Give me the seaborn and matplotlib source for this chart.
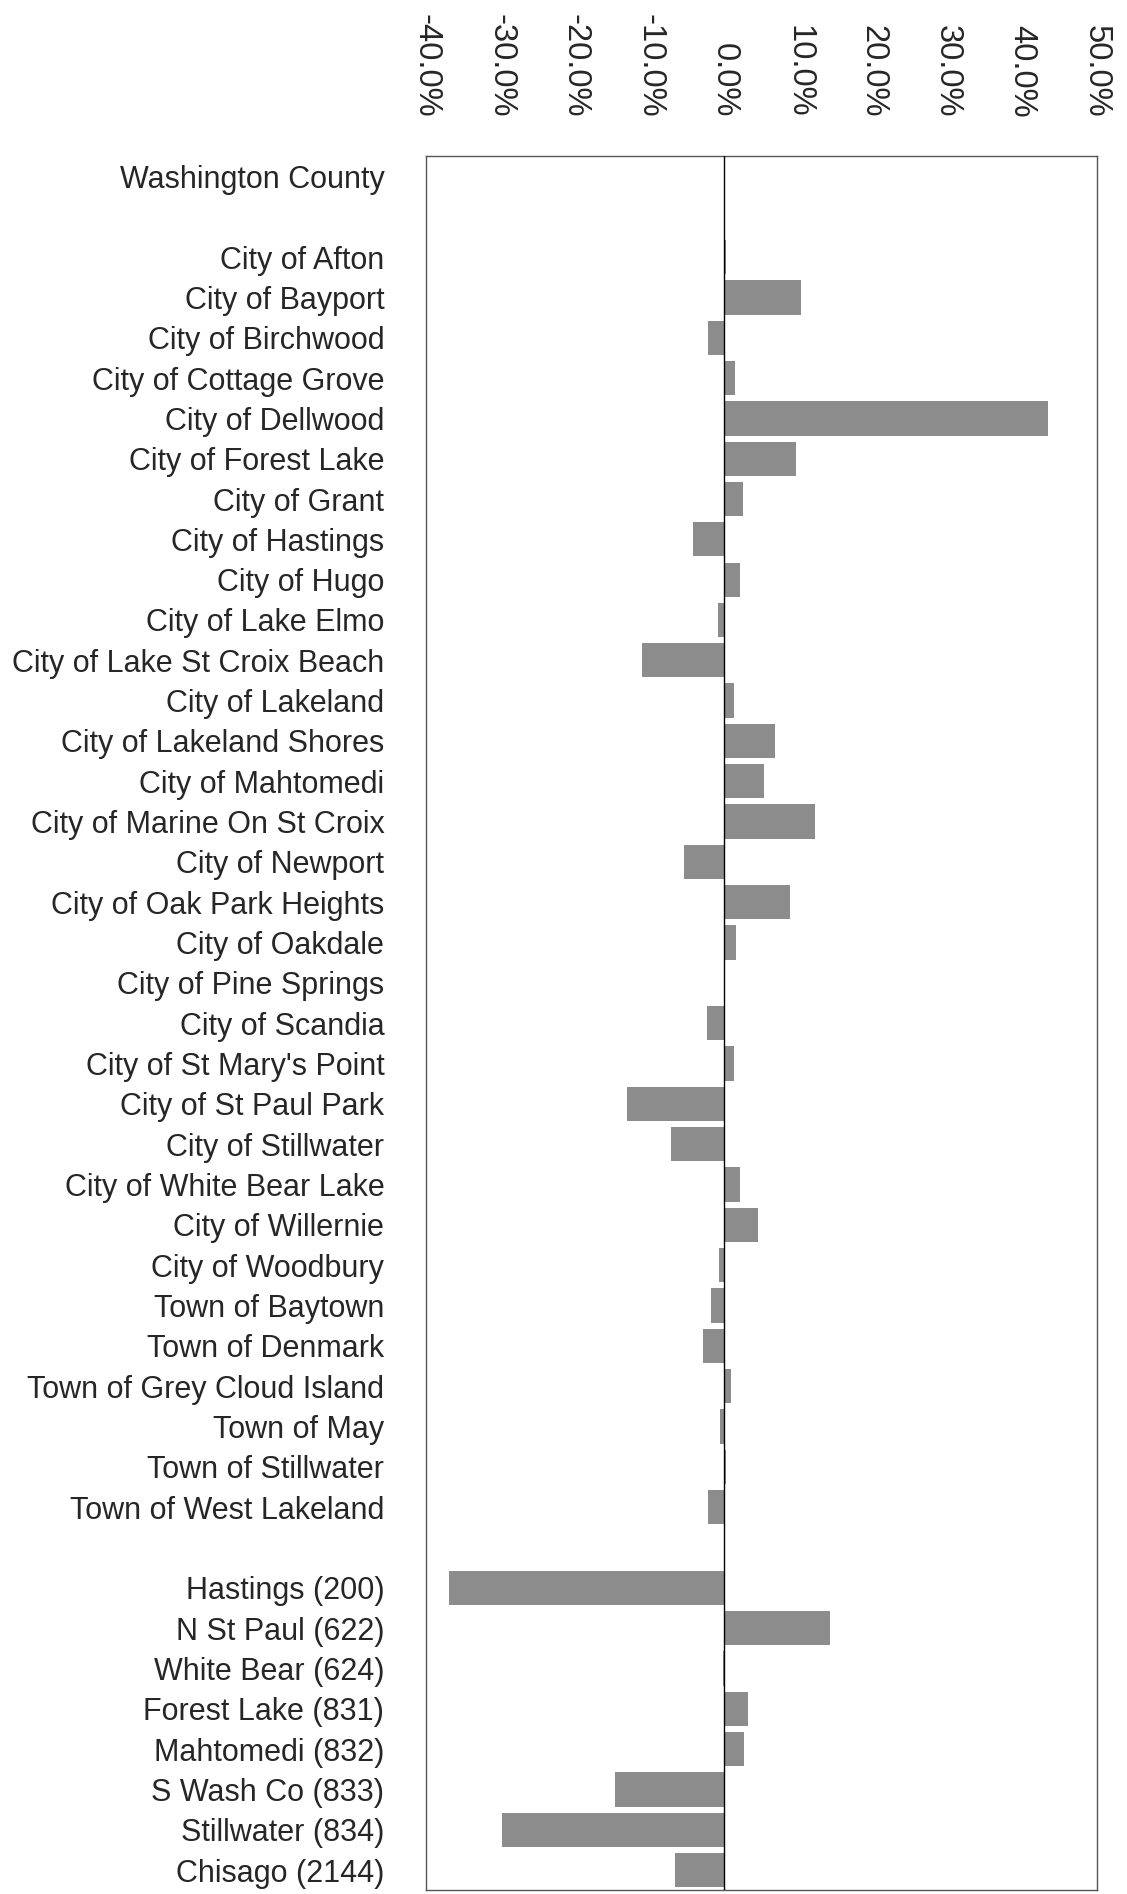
import matplotlib
matplotlib.use('Agg')
import matplotlib.pyplot as plt
import seaborn as sns
import pandas as pd
from matplotlib.ticker import FuncFormatter

# ---- data (percent change) ----
county = ["Washington County"]
county_vals = [0.0]

cities = [
    "City of Afton", "City of Bayport", "City of Birchwood", "City of Cottage Grove",
    "City of Dellwood", "City of Forest Lake", "City of Grant", "City of Hastings",
    "City of Hugo", "City of Lake Elmo", "City of Lake St Croix Beach", "City of Lakeland",
    "City of Lakeland Shores", "City of Mahtomedi", "City of Marine On St Croix",
    "City of Newport", "City of Oak Park Heights", "City of Oakdale", "City of Pine Springs",
    "City of Scandia", "City of St Mary's Point", "City of St Paul Park", "City of Stillwater",
    "City of White Bear Lake", "City of Willernie", "City of Woodbury",
    "Town of Baytown", "Town of Denmark", "Town of Grey Cloud Island", "Town of May",
    "Town of Stillwater", "Town of West Lakeland",
]
city_vals = [
    0.3, 10.3, -2.2, 1.5,
    43.5, 9.7, 2.5, -4.2,
    2.2, -0.8, -11.0, 1.3,
    6.9, 5.4, 12.2,
    -5.4, 8.8, 1.6, 0.0,
    -2.3, 1.3, -13.0, -7.1,
    2.2, 4.6, -0.7,
    -1.8, -2.8, 1.0, -0.6,
    0.3, -2.1,
]

districts = [
    "Hastings (200)", "N St Paul (622)", "White Bear (624)", "Forest Lake (831)",
    "Mahtomedi (832)", "S Wash Co (833)", "Stillwater (834)", "Chisago (2144)",
]
district_vals = [-36.9, 14.2, -0.2, 3.2, 2.7, -14.6, -29.8, -6.6]

x_ticks = [-40, -30, -20, -10, 0, 10, 20, 30, 40, 50]

# ---- styling ----
sns.set_theme(style='white')
plt.rcParams['font.family'] = ['Liberation Sans', 'DejaVu Sans']

names = county + cities + districts
values = county_vals + city_vals + district_vals
df = pd.DataFrame({'name': names, 'change': values})
order = county + [' '] + cities + ['  '] + districts

fig = plt.figure(figsize=(11.27, 18.94), dpi=100)
ax = fig.add_axes([0.378, 0.002, 0.595, 0.9155])

sns.barplot(data=df, x='change', y='name', order=order, orient='h',
            color='#8c8c8c', saturation=1, width=0.85, errorbar=None,
            linewidth=0, ax=ax)

ax.set_xlim(-40, 50)
ax.set_ylim(len(order) - 0.5, -0.5)
ax.axvline(0, color='black', lw=1.0, zorder=3)

ax.xaxis.tick_top()
ax.set_xticks(x_ticks)
ax.xaxis.set_major_formatter(FuncFormatter(lambda v, p: f"{v:.1f}%"))
ax.tick_params(axis='x', labelrotation=-90, length=0, pad=28, labelsize=23.5)
ax.tick_params(axis='y', length=0, pad=30, labelsize=22)
ax.set_xlabel('')
ax.set_ylabel('')
for s in ax.spines.values():
    s.set_color('#555555')
    s.set_linewidth(1.0)

fig.savefig('out.png', dpi=100)
